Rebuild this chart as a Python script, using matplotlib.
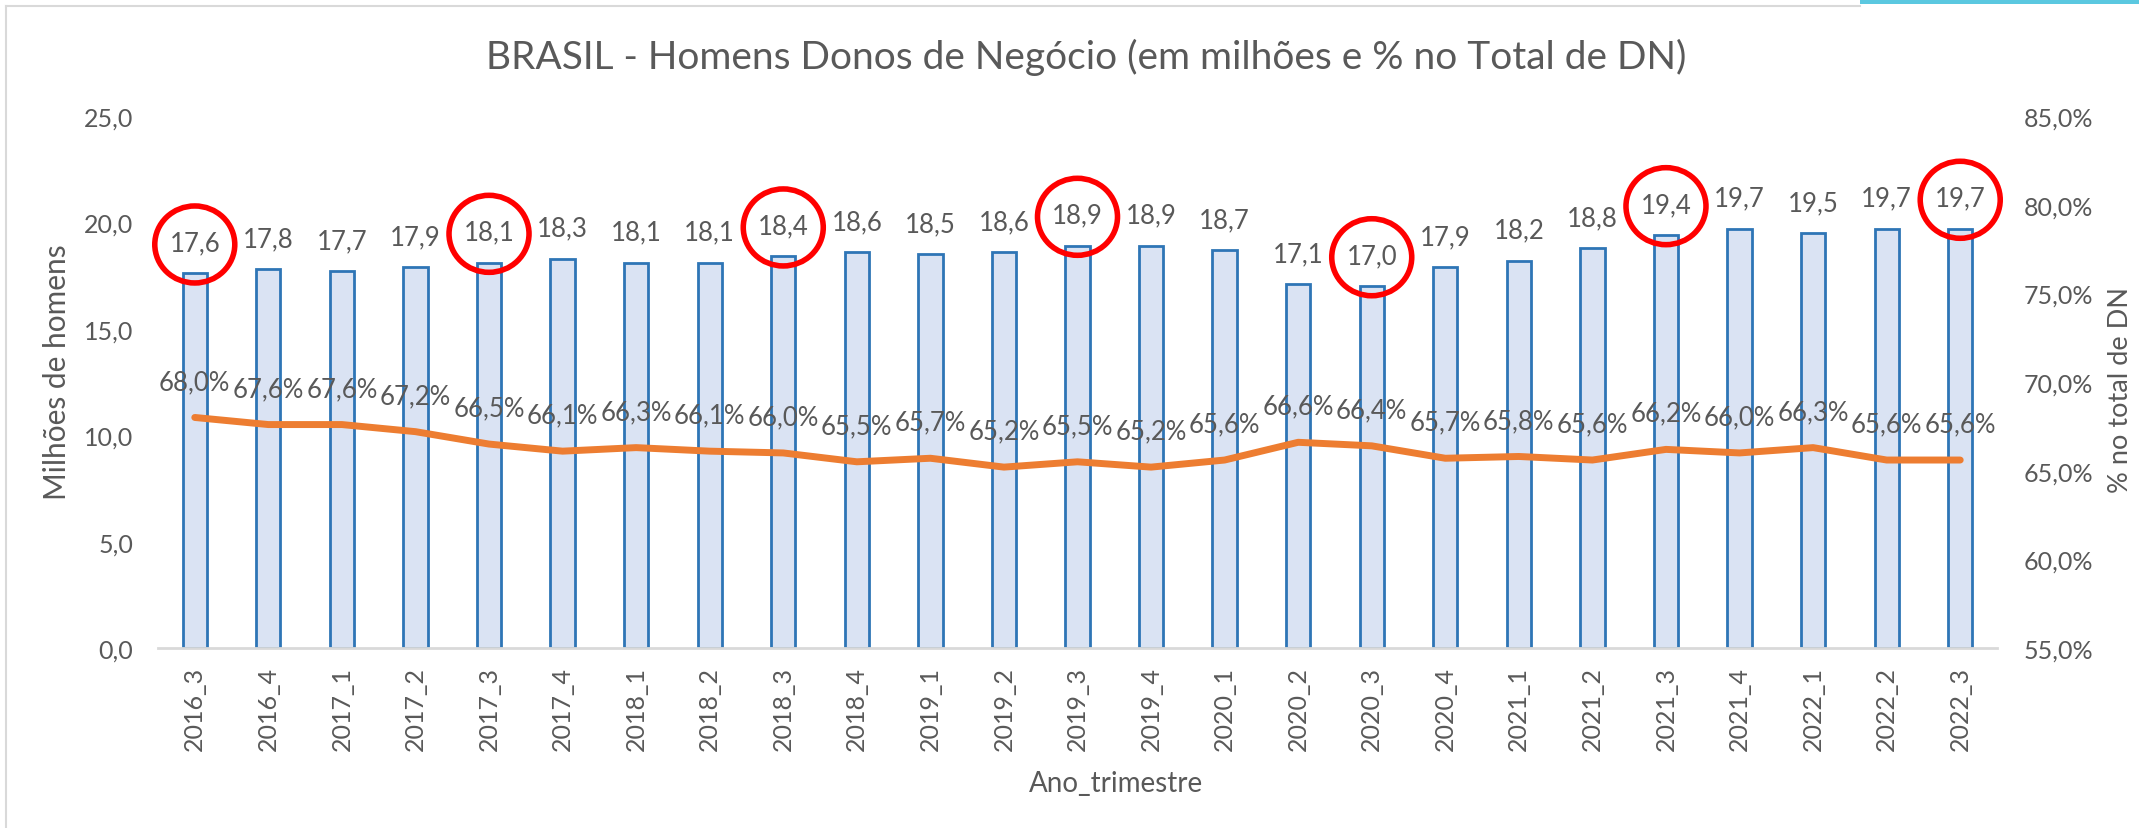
import matplotlib
matplotlib.use("Agg")
import matplotlib.pyplot as plt
from matplotlib.patches import Ellipse
from matplotlib.transforms import ScaledTranslation

plt.rcParams['font.family'] = ['Lato', 'DejaVu Sans']

# data
periodos = ['2016_3', '2016_4', '2017_1', '2017_2', '2017_3', '2017_4',
            '2018_1', '2018_2', '2018_3', '2018_4', '2019_1', '2019_2',
            '2019_3', '2019_4', '2020_1', '2020_2', '2020_3', '2020_4',
            '2021_1', '2021_2', '2021_3', '2021_4', '2022_1', '2022_2', '2022_3']
homens = [17.6, 17.8, 17.7, 17.9, 18.1, 18.3, 18.1, 18.1, 18.4, 18.6, 18.5, 18.6,
          18.9, 18.9, 18.7, 17.1, 17.0, 17.9, 18.2, 18.8, 19.4, 19.7, 19.5, 19.7, 19.7]
pct_total = [68.0, 67.6, 67.6, 67.2, 66.5, 66.1, 66.3, 66.1, 66.0, 65.5, 65.7, 65.2,
             65.5, 65.2, 65.6, 66.6, 66.4, 65.7, 65.8, 65.6, 66.2, 66.0, 66.3, 65.6, 65.6]
destaques = ['2016_3', '2017_3', '2018_3', '2019_3', '2020_3', '2021_3', '2022_3']

cinza = '#595959'
W, H = 2139, 829
fig = plt.figure(figsize=(W / 100, H / 100), dpi=100)

# chart frame + the cyan strip at the top right
fig.add_artist(plt.Line2D([6 / W, 6 / W], [0, 1 - 7 / H], color='#D9D9D9', lw=1.5))
fig.add_artist(plt.Line2D([6 / W, 1860 / W], [1 - 7 / H, 1 - 7 / H], color='#D9D9D9', lw=1.5))
fig.add_artist(plt.Rectangle((1860 / W, 1 - 5 / H), 279 / W, 5 / H, color='#5BC8E0', lw=0))

ax = fig.add_axes([158 / W, 1 - 649 / H, (1997 - 158) / W, (649 - 117) / H])
x = list(range(len(periodos)))
ax.bar(x, homens, width=0.33, color='#DAE3F3', edgecolor='#2E75B6', linewidth=2, zorder=2)
ax.set_ylim(0, 25)
ax.set_xlim(-0.5, len(periodos) - 0.5)
ax.set_yticks([0, 5, 10, 15, 20, 25])
ax.set_yticklabels([f'{v:.1f}'.replace('.', ',') for v in [0, 5, 10, 15, 20, 25]])
ax.set_xticks(x)
ax.set_xticklabels(periodos, rotation=90)
ax.tick_params(axis='x', length=0, pad=13, labelsize=18, colors=cinza)
ax.tick_params(axis='y', length=0, pad=18, labelsize=18, colors=cinza)
for s in ['top', 'left', 'right']:
    ax.spines[s].set_visible(False)
ax.spines['bottom'].set_color('#D9D9D9')
ax.spines['bottom'].set_linewidth(2)

for i, v in enumerate(homens):
    ax.annotate(f'{v:.1f}'.replace('.', ','), (i, v), xytext=(0, 22), textcoords='offset points',
                ha='center', va='center', fontsize=18.5, color=cinza, zorder=5)

ax2 = ax.twinx()
ax2.plot(x, pct_total, color='#ED7D31', lw=5, solid_capstyle='round', zorder=3)
ax2.set_ylim(55, 85)
ax2.set_yticks([55, 60, 65, 70, 75, 80, 85])
ax2.set_yticklabels([f'{v:.1f}%'.replace('.', ',') for v in [55, 60, 65, 70, 75, 80, 85]])
ax2.tick_params(axis='y', length=0, pad=19, labelsize=18, colors=cinza)
for s in ['top', 'left', 'right', 'bottom']:
    ax2.spines[s].set_visible(False)
for i, v in enumerate(pct_total):
    ax2.annotate(f'{v:.1f}%'.replace('.', ','), (i, v), xytext=(0, 26), textcoords='offset points',
                 ha='center', va='center', fontsize=18.5, color=cinza, zorder=5)

# red circles around the highlighted bar labels
for p in destaques:
    i = periodos.index(p)
    tr = fig.dpi_scale_trans + ScaledTranslation(i, homens[i], ax.transData)
    ax2.add_patch(Ellipse((0, 0.29), 0.80, 0.77, transform=tr, fill=False,
                          edgecolor='#FF0000', lw=4, zorder=6, clip_on=False))

fig.text(1086 / W, 1 - 57 / H, 'BRASIL - Homens Donos de Negócio (em milhões e % no Total de DN)',
         ha='center', va='center', fontsize=28, color=cinza)
fig.text(1116 / W, 1 - 784 / H, 'Ano_trimestre', ha='center', va='center', fontsize=20, color=cinza)
fig.text(57 / W, 1 - 372 / H, 'Milhões de homens', ha='center', va='center', rotation=90,
         fontsize=21.5, color=cinza)
fig.text(2120 / W, 1 - 390 / H, '% no total de DN', ha='center', va='center', rotation=90,
         fontsize=19.5, color=cinza)

fig.savefig('out.png', dpi=100)
